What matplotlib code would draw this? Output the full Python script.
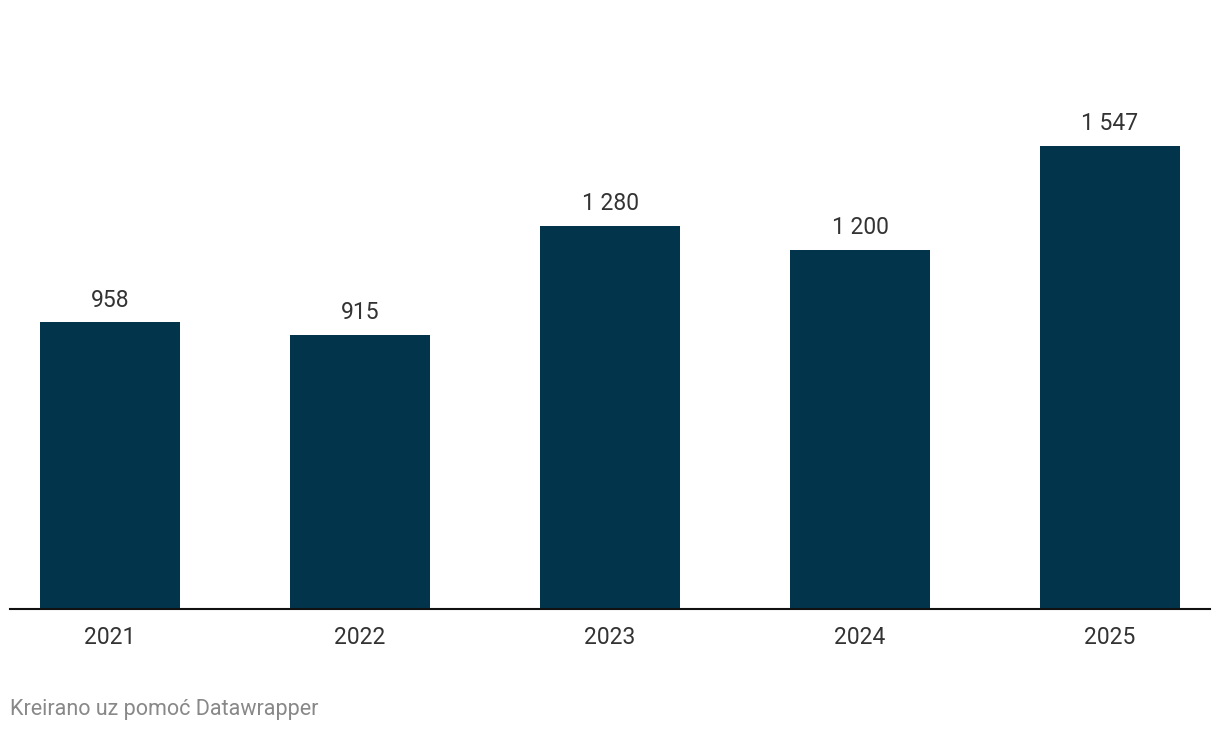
import matplotlib.pyplot as plt

# Data
years = ["2021", "2022", "2023", "2024", "2025"]
values = [958, 915, 1280, 1200, 1547]

BAR_COLOR = "#02354b"
TEXT_COLOR = "#333333"


def fmt(v):
	# thousands separated by a space
	return "{:,}".format(v).replace(",", " ")


def main():
	plt.rcParams['font.family'] = ['Roboto', 'DejaVu Sans']

	fig = plt.figure(figsize=(12.2, 7.32), dpi=100)
	# axes placed in pixels: left 10, right 1210, baseline at y=609
	ax = fig.add_axes([10 / 1220, (732 - 609) / 732, 1200 / 1220, 609 / 732])

	x = range(len(years))
	ax.bar(x, values, width=0.56, color=BAR_COLOR, zorder=2)

	# value labels above bars
	for xi, v in zip(x, values):
		ax.annotate(fmt(v), (xi, v), xytext=(0, 16), textcoords="offset points",
					ha="center", va="center", fontsize=16.5, color=TEXT_COLOR)

	ax.set_xlim(-0.4, 4.4)
	ax.set_ylim(0, 609 / ((609 - 146) / 1547))

	ax.set_xticks(list(x))
	ax.set_xticklabels(years, fontsize=16.5, color=TEXT_COLOR)
	ax.tick_params(axis="x", length=0, pad=12)
	ax.set_yticks([])

	for side in ["top", "right", "left"]:
		ax.spines[side].set_visible(False)
	ax.spines["bottom"].set_linewidth(1.5)
	ax.spines["bottom"].set_color("#111111")
	ax.spines["bottom"].set_zorder(3)

	fig.text(10 / 1220, 1 - 709 / 732, "Kreirano uz pomoć Datawrapper",
			 ha="left", va="center", fontsize=15.5, color="#888888")

	plt.savefig("out.png", dpi=100)


if __name__ == "__main__":
	main()
